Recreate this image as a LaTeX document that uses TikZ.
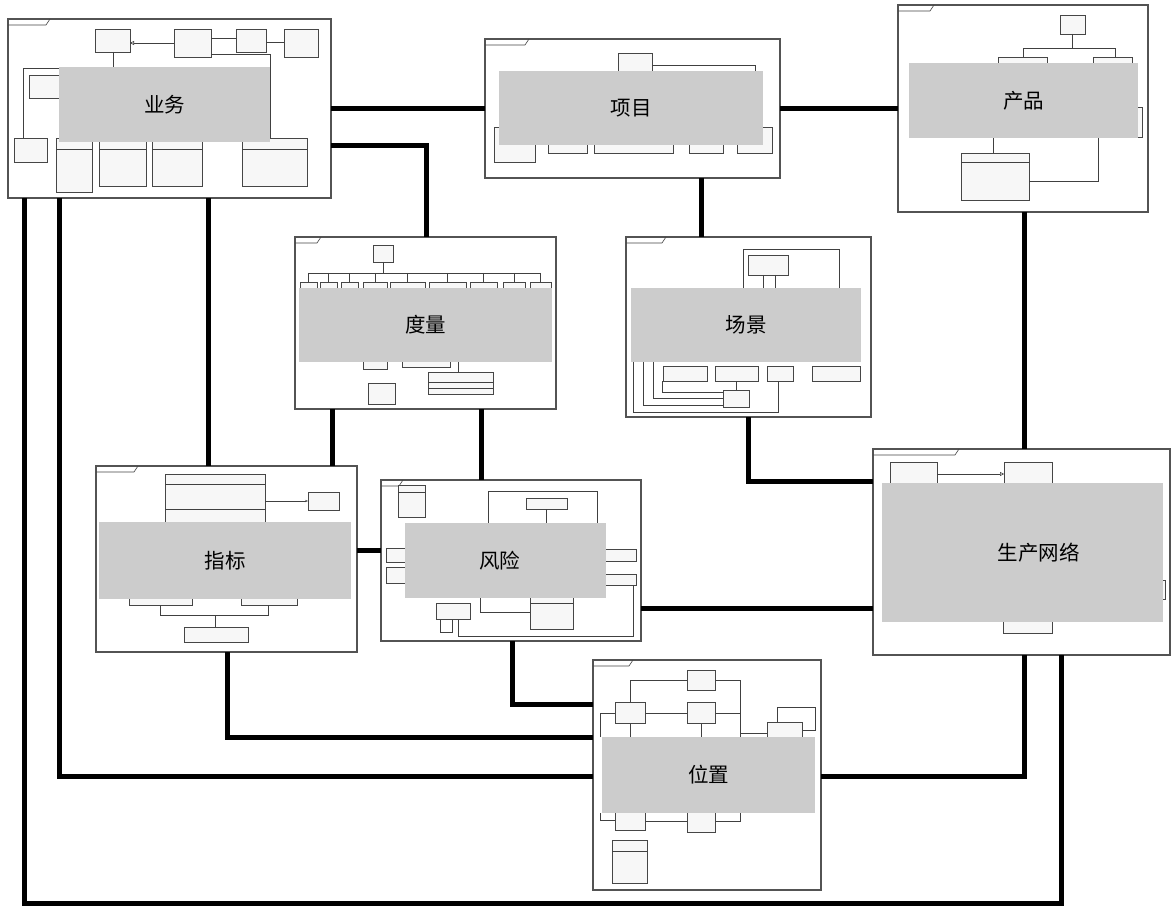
\documentclass[tikz,border=0pt]{standalone}
\usepackage{fontspec}
\newfontfamily\cjk{Noto Sans CJK SC}
\usetikzlibrary{arrows.meta}
\tikzset{
  panel/.style={draw=gray!65!black,line width=1.2pt,fill=white,inner sep=0pt,outer sep=0pt},
  namebox/.style={fill=black!20,inner sep=0pt,outer sep=0pt,font=\cjk\fontsize{20.5}{21}\selectfont},
  link/.style={line width=5pt,black},
  umlbox/.style={draw=gray!55!black,line width=0.9pt,fill=gray!6},
  umlline/.style={draw=gray!50!black,line width=0.6pt},
  tab/.style={draw=gray!55!black,line width=0.6pt}
}
\begin{document}
\begin{tikzpicture}[x=1pt,y=-1pt]
        \useasboundingbox (0,0) rectangle (1175,909);
        %% bend points of the links
        \coordinate (b3) at (426,146);
        \coordinate (t4) at (701,200);
        \coordinate (t5) at (1024,300);
        \coordinate (t6) at (208,300);
        \coordinate (b7) at (59,776);
        \coordinate (b8a) at (24,903);
        \coordinate (b8b) at (1061,903);
        \coordinate (t9) at (332,430);
        \coordinate (t10) at (481,440);
        \coordinate (t11) at (370,550);
        \coordinate (t12) at (760,608);
        \coordinate (b13) at (748,481);
        \coordinate (b14) at (227,737);
        \coordinate (b15) at (512,704);
        \coordinate (b16) at (1024,776);
        %% Panels
        \path
          (169.5,108.5) coordinate (pyewu)
          (632.5,108.5) coordinate (pxiangmu)
          (1023,108.5) coordinate (pchanpin)
          (425.5,323) coordinate (pduliang)
          (748.5,327) coordinate (pchangjing)
          (226.5,559) coordinate (pzhibiao)
          (511,560.5) coordinate (pfengxian)
          (1021.5,552) coordinate (pshengchan)
          (707,775) coordinate (pweizhi);
        \path
          node[panel,minimum width=323pt,minimum height=179pt] (yewu) at (pyewu) {}
          node[panel,minimum width=295pt,minimum height=139pt] (xiangmu) at (pxiangmu) {}
          node[panel,minimum width=250pt,minimum height=207pt] (chanpin) at (pchanpin) {}
          node[panel,minimum width=261pt,minimum height=172pt] (duliang) at (pduliang) {}
          node[panel,minimum width=245pt,minimum height=180pt] (changjing) at (pchangjing) {}
          node[panel,minimum width=261pt,minimum height=186pt] (zhibiao) at (pzhibiao) {}
          node[panel,minimum width=260pt,minimum height=161pt] (fengxian) at (pfengxian) {}
          node[panel,minimum width=297pt,minimum height=206pt] (shengchan) at (pshengchan) {}
          node[panel,minimum width=228pt,minimum height=230pt] (weizhi) at (pweizhi) {};
        %% Links
        \draw[link] (yewu.east) -- (xiangmu.west);
        \draw[link] (xiangmu.east) -- (chanpin.west |- xiangmu.east);
        \draw[link] (yewu.east |- b3) -- (b3) -- (duliang.north -| b3);
        \draw[link] (xiangmu.south -| t4) -- (changjing.north -| t4);
        \draw[link] (chanpin.south -| t5) -- (shengchan.north -| t5);
        \draw[link] (yewu.south -| t6) -- (zhibiao.north -| t6);
        \draw[link] (yewu.south -| b7) -- (b7) -- (weizhi.west |- b7);
        \draw[link] (yewu.south -| b8a) -- (b8a) -- (b8b) -- (shengchan.south -| b8b);
        \draw[link] (duliang.south -| t9) -- (zhibiao.north -| t9);
        \draw[link] (duliang.south -| t10) -- (fengxian.north -| t10);
        \draw[link] (zhibiao.east |- t11) -- (fengxian.west |- t11);
        \draw[link] (fengxian.east |- t12) -- (shengchan.west |- t12);
        \draw[link] (changjing.south -| b13) -- (b13) -- (shengchan.west |- b13);
        \draw[link] (zhibiao.south -| b14) -- (b14) -- (weizhi.west |- b14);
        \draw[link] (fengxian.south -| b15) -- (b15) -- (weizhi.west |- b15);
        \draw[link] (weizhi.east |- b16) -- (b16) -- (shengchan.south -| b16);
        %% frame tabs
        \foreach \p/\w in {yewu/38,xiangmu/40,chanpin/32,duliang/22,changjing/36,zhibiao/38,fengxian/18,shengchan/82,weizhi/36}
          \draw[tab] (\p.north west) ++(0,6) -- ++(\w,0) -- ++(4,-6);
        %% yewu content
        \draw[umlbox] (95,29) rectangle (130,52);
        \draw[umlbox] (174,29) rectangle (211,57);
        \draw[umlbox] (236,29) rectangle (266,52);
        \draw[umlbox] (284,29) rectangle (318,57);
        \draw[umlbox] (29,75) rectangle (59,98);
        \draw[umlbox] (14,138) rectangle (47,162);
        \foreach \a/\b/\c in {56/92/192,99/146/186,152/202/186,242/307/186} {
          \draw[umlbox] (\a,138) rectangle (\b,\c);
          \draw[umlline] (\a,149) -- (\b,149);
        }
        \draw[umlline,-{Triangle[open,length=4pt,width=4pt]}] (174,43) -- (130,43);
        \draw[umlline] (211,38) -- (236,38);
        \draw[umlline] (266,42) -- (284,42);
        \draw[umlline] (211,54) -- (270,54) -- (270,138);
        \draw[umlline] (113,52) -- (113,67);
        \draw[umlline] (23,138) -- (23,68) -- (59,68);
        %% xiangmu content
        \draw[umlbox] (618,53) rectangle (652,71);
        \draw[umlline] (652,65) -- (755,65) -- (755,127);
        \draw[umlbox] (494,127) rectangle (535,162);
        \draw[umlbox] (548,127) rectangle (587,153);
        \draw[umlbox] (594,127) rectangle (673,153);
        \draw[umlbox] (689,127) rectangle (723,153);
        \draw[umlbox] (737,127) rectangle (772,153);
        %% chanpin content
        \draw[umlbox] (1060,15) rectangle (1085,34);
        \draw[umlline] (1072,34) -- (1072,48);
        \draw[umlline] (1023,58) -- (1023,48) -- (1115,48) -- (1115,58);
        \draw[umlbox] (998,57) rectangle (1047,70);
        \draw[umlbox] (1093,57) rectangle (1132,70);
        \draw[umlbox] (1128,107) rectangle (1142,137);
        \draw[umlbox] (961,153) rectangle (1029,200);
        \draw[umlline] (961,162) -- (1029,162);
        \draw[umlline] (993,153) -- (993,136);
        \draw[umlline] (1098,136) -- (1098,181) -- (1029,181);
        %% duliang content
        \draw[umlbox] (373,245) rectangle (393,262);
        \draw[umlline] (383,262) -- (383,273);
        \draw[umlline] (308,273) -- (541,273);
        \foreach \a/\b in {300/317,320/337,341/358,363/387,390/425,429/466,470/497,503/525,530/551} {
          \draw[umlline] ({(\a+\b)/2},273) -- ({(\a+\b)/2},282);
          \draw[umlbox] (\a,282) rectangle (\b,300);
        }
        \draw[umlbox] (363,352) rectangle (387,369);
        \draw[umlbox] (402,352) rectangle (450,367);
        \draw[umlline] (458,362) -- (458,372);
        \draw[umlbox] (428,372) rectangle (493,394);
        \draw[umlline] (428,382) -- (493,382);
        \draw[umlline] (428,388) -- (493,388);
        \draw[umlbox] (368,383) rectangle (395,404);
        %% changjing content
        \draw[umlline] (743,288) -- (743,249) -- (839,249) -- (839,288);
        \draw[umlbox] (748,255) rectangle (788,275);
        \draw[umlline] (763,275) -- (763,288);
        \draw[umlline] (775,275) -- (775,288);
        \draw[umlbox] (663,366) rectangle (707,381);
        \draw[umlbox] (715,366) rectangle (758,381);
        \draw[umlbox] (767,366) rectangle (793,381);
        \draw[umlbox] (812,366) rectangle (860,381);
        \draw[umlline] (736,381) -- (736,390);
        \draw[umlline] (633,362) -- (633,412) -- (778,412) -- (778,381);
        \draw[umlline] (643,362) -- (643,405) -- (723,405);
        \draw[umlline] (653,362) -- (653,398) -- (723,398);
        \draw[umlline] (662,381) -- (662,392) -- (723,392);
        \draw[umlbox] (723,390) rectangle (749,407);
        %% zhibiao content
        \draw[umlbox] (165,474) rectangle (265,523);
        \draw[umlline] (165,484) -- (265,484);
        \draw[umlline] (165,509) -- (265,509);
        \draw[umlbox] (308,492) rectangle (339,510);
        \draw[umlline,-{Stealth[length=3pt]}] (265,501) -- (308,501);
        \draw[umlbox] (129,592) rectangle (192,605);
        \draw[umlbox] (241,592) rectangle (297,605);
        \draw[umlline] (160,605) -- (160,615) -- (268,615) -- (268,605);
        \draw[umlline] (215,615) -- (215,627);
        \draw[umlbox] (184,627) rectangle (248,642);
        %% fengxian content
        \draw[umlbox] (398,485) rectangle (425,517);
        \draw[umlline] (398,492) -- (425,492);
        \draw[umlline] (488,523) -- (488,491) -- (597,491) -- (597,549);
        \draw[umlbox] (526,498) rectangle (567,509);
        \draw[umlline] (546,509) -- (546,523);
        \draw[umlbox] (386,548) rectangle (407,562);
        \draw[umlbox] (386,567) rectangle (407,583);
        \draw[umlbox] (592,549) rectangle (636,561);
        \draw[umlbox] (592,574) rectangle (636,585);
        \draw[umlline] (480,598) -- (480,612) -- (530,612);
        \draw[umlline] (458,619) -- (458,636) -- (633,636) -- (633,585);
        \draw[umlline] (440,619) -- (440,632) -- (452,632) -- (452,619);
        \draw[umlbox] (436,603) rectangle (470,619);
        \draw[umlbox] (530,597) rectangle (573,629);
        \draw[umlline] (530,603) -- (573,603);
        %% shengchan content
        \draw[umlbox] (890,462) rectangle (937,488);
        \draw[umlbox] (1004,462) rectangle (1052,487);
        \draw[umlline,-{Triangle[open,length=4pt,width=4pt]}] (937,474) -- (1004,474);
        \draw[umlbox] (1003,615) rectangle (1052,633);
        \draw[umlbox] (1158,580) rectangle (1165,599);
        %% weizhi content
        \draw[umlline] (630,702) -- (630,680) -- (687,680);
        \draw[umlline] (715,680) -- (740,680) -- (740,737);
        \draw[umlline] (645,713) -- (687,713);
        \draw[umlline] (715,713) -- (740,713);
        \draw[umlline] (740,733) -- (767,733);
        \draw[umlline] (615,713) -- (600,713) -- (600,737);
        \draw[umlline] (630,723) -- (630,737);
        \draw[umlline] (701,723) -- (701,737);
        \draw[umlline] (777,722) -- (777,707) -- (815,707) -- (815,730) -- (802,730);
        \draw[umlline] (600,813) -- (600,820) -- (615,820);
        \draw[umlline] (645,821) -- (687,821);
        \draw[umlline] (715,821) -- (740,821) -- (740,813);
        \draw[umlbox] (687,670) rectangle (715,690);
        \draw[umlbox] (615,702) rectangle (645,723);
        \draw[umlbox] (687,702) rectangle (715,723);
        \draw[umlbox] (767,722) rectangle (802,745);
        \draw[umlbox] (615,811) rectangle (645,830);
        \draw[umlbox] (687,811) rectangle (715,832);
        \draw[umlbox] (612,840) rectangle (647,883);
        \draw[umlline] (612,851) -- (647,851);
        %% Name boxes
        \node[namebox,minimum width=211pt,minimum height=75pt] (yewuL) at (164.5,104.5) {业务};
        \node[namebox,minimum width=264pt,minimum height=74pt] (xiangmuL) at (631,108) {项目};
        \node[namebox,minimum width=229pt,minimum height=75pt] (chanpinL) at (1023.5,100.5) {产品};
        \node[namebox,minimum width=253pt,minimum height=74pt] (duliangL) at (425.5,325) {度量};
        \node[namebox,minimum width=230pt,minimum height=74pt] (changjingL) at (746,325) {场景};
        \node[namebox,minimum width=252pt,minimum height=77pt] (zhibiaoL) at (225,560.5) {指标};
        \node[namebox,minimum width=201pt,minimum height=75pt] (fengxianL) at (505.5,560.5) {\hspace*{-12pt}风险};
        \node[namebox,minimum width=281pt,minimum height=139pt] (shengchanL) at (1022.5,552.5) {\hspace*{32pt}生产网络};
        \node[namebox,minimum width=213pt,minimum height=76pt] (weizhiL) at (708.5,775) {位置};
    \end{tikzpicture}
\end{document}
